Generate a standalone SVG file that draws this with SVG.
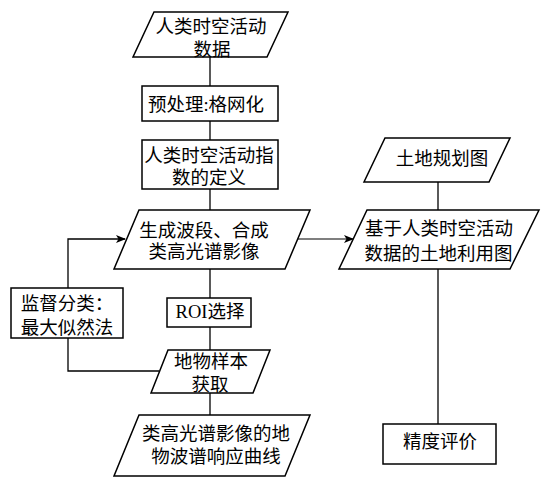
<svg xmlns="http://www.w3.org/2000/svg" width="546" height="488" viewBox="0 0 546 488">
<style>
.n{fill:#fff;stroke:#000;stroke-width:1.5}
.c{fill:none;stroke:#000;stroke-width:1.3}
.g{fill:none;stroke:#555;stroke-width:1.6}
text{font-family:"Liberation Serif","Noto Sans CJK SC",serif;font-size:18.5px;fill:#000;text-anchor:middle}
</style>
<defs>
<marker id="ah" markerWidth="10" markerHeight="8" refX="9" refY="4" orient="auto" markerUnits="userSpaceOnUse">
<path d="M0,0 L10,4 L0,8 L2.5,4 Z" fill="#000"/>
</marker>
</defs>
<g id="connectors">
<line class="c" x1="210" y1="57" x2="210" y2="86"/>
<line class="c" x1="210" y1="121" x2="210" y2="140"/>
<line class="c" x1="210" y1="189" x2="210" y2="210"/>
<line class="c" x1="210" y1="269" x2="210" y2="298"/>
<line class="c" x1="210" y1="327" x2="210" y2="350"/>
<line class="c" x1="210" y1="393" x2="210" y2="415"/>
<polyline class="c" points="68,288 68,239 125,239" marker-end="url(#ah)"/>
<polyline class="c" points="68,338 68,371 159,371"/>
<line class="g" x1="297" y1="239" x2="353" y2="239" marker-end="url(#ah)"/>
<line class="c" x1="438" y1="182" x2="438" y2="210"/>
<line class="c" x1="438" y1="269" x2="438" y2="424"/>
</g>
<g id="n1"><polygon class="n" points="154,12 288,12 267,57 133,57"/><text x="211" y="33">人类时空活动</text><text x="212" y="56">数据</text></g>
<g id="n2"><rect class="n" x="142" y="86" width="136" height="35"/><text x="206" y="110.5">预处理:格网化</text></g>
<g id="n3"><rect class="n" x="142" y="140" width="136" height="49"/><text x="209" y="161.5">人类时空活动指</text><text x="209" y="183.5">数的定义</text></g>
<g id="n4"><polygon class="n" points="139,210 310,210 285,269 114,269"/><text x="204" y="236.5">生成波段、合成</text><text x="204" y="258">类高光谱影像</text></g>
<g id="n5"><rect class="n" x="11" y="288" width="112" height="50"/><text x="67" y="309.5">监督分类：</text><text x="67" y="333.5">最大似然法</text></g>
<g id="n6"><rect class="n" x="167" y="298" width="84" height="29"/><text x="210" y="318">ROI选择</text></g>
<g id="n7"><polygon class="n" points="168,350 270,350 253,393 151,393"/><text x="211" y="368">地物样本</text><text x="210" y="391">获取</text></g>
<g id="n8"><polygon class="n" points="139,415 310,415 285,476 114,476"/><text x="216" y="439.5">类高光谱影像的地</text><text x="216" y="463">物波谱响应曲线</text></g>
<g id="n9"><polygon class="n" points="385,138 510,138 489,182 364,182"/><text x="442" y="164.5">土地规划图</text></g>
<g id="n10"><polygon class="n" points="367,210 539,210 510,269 339,269"/><text x="439" y="234.5">基于人类时空活动</text><text x="438.5" y="259.5">数据的土地利用图</text></g>
<g id="n11"><rect class="n" x="383" y="424" width="113" height="40"/><text x="440" y="448">精度评价</text></g>
</svg>
